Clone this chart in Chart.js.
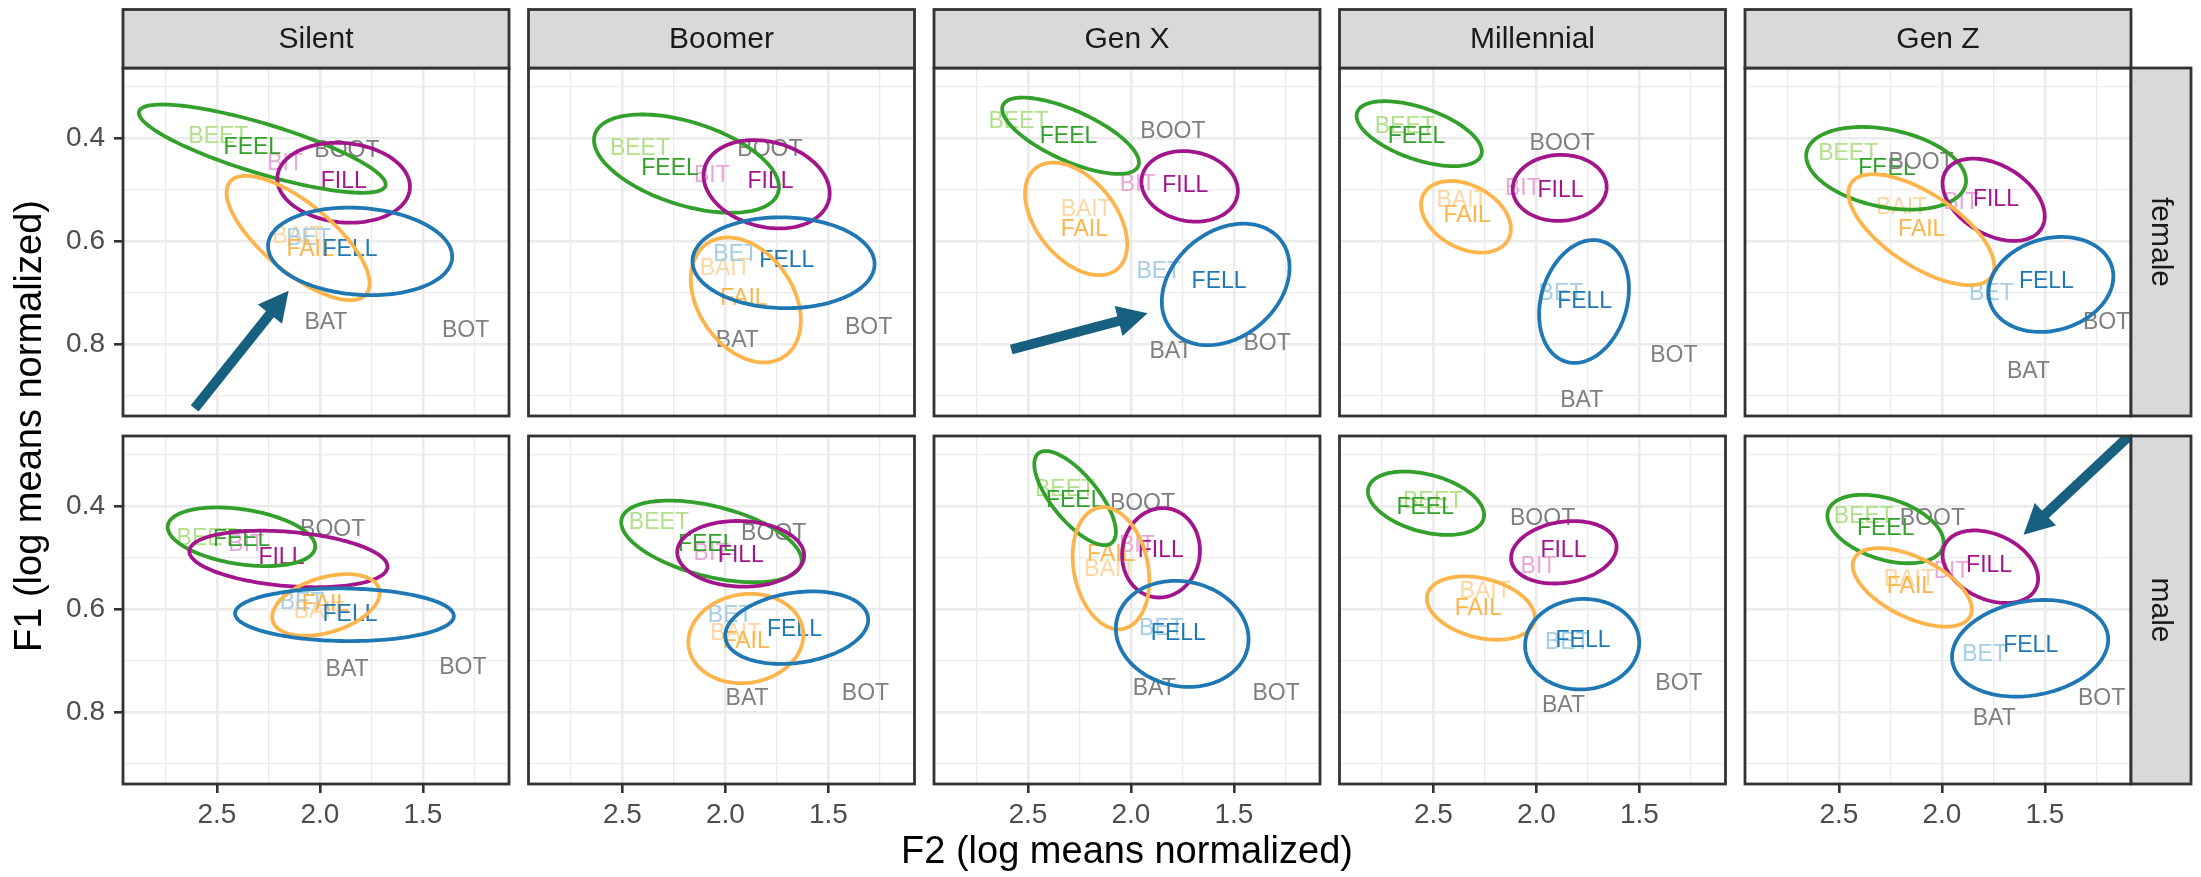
<!DOCTYPE html>
<html>
<head>
<meta charset="utf-8">
<script src="https://cdn.jsdelivr.net/npm/chart.js@4.4.1/dist/chart.umd.min.js"></script>
<style>
  body { margin: 0; background: #fff; }
  #fig { position: relative; width: 2201px; height: 877px; background: #fff; }
  #fig canvas { position: absolute; left: 0; top: 0; }
</style>
</head>
<body>
<div id="fig"></div>
<script>
// facets
const generations = ['Silent', 'Boomer', 'Gen X', 'Millennial', 'Gen Z'];
const sexes = ['female', 'male'];

// words, in drawing order
const words = ['BEET', 'BIT', 'BAIT', 'BET', 'FEEL', 'FILL', 'FAIL', 'FELL', 'BOOT', 'BAT', 'BOT'];
const ellipseWords = ['FEEL', 'FILL', 'FAIL', 'FELL'];

// axis ticks
const xTicks = [2.75, 2.5, 2.25, 2.0, 1.75, 1.5, 1.25];
const xMajor = [2.5, 2.0, 1.5];
const yTicks = [0.3, 0.4, 0.5, 0.6, 0.7, 0.8, 0.9];
const yMajor = [0.4, 0.6, 0.8];

// F2 / F1 of each word (same order as words)
const silentFemaleF2 = [2.493, 2.169, 2.107, 2.055, 2.328, 1.884, 2.048, 1.854, 1.869, 1.971, 1.293];
const silentFemaleF1 = [0.398, 0.451, 0.592, 0.595, 0.419, 0.485, 0.617, 0.617, 0.425, 0.758, 0.774];
const boomerFemaleF2 = [2.415, 2.066, 2.001, 1.950, 2.269, 1.781, 1.910, 1.702, 1.784, 1.942, 1.305];
const boomerFemaleF1 = [0.421, 0.474, 0.653, 0.627, 0.459, 0.485, 0.711, 0.638, 0.422, 0.793, 0.768];
const genxFemaleF2 = [2.546, 1.967, 2.217, 1.865, 2.303, 1.736, 2.226, 1.572, 1.796, 1.806, 1.339];
const genxFemaleF1 = [0.369, 0.490, 0.539, 0.659, 0.397, 0.493, 0.577, 0.679, 0.388, 0.815, 0.798];
const millFemaleF2 = [2.639, 2.066, 2.361, 1.881, 2.582, 1.883, 2.336, 1.766, 1.875, 1.780, 1.333];
const millFemaleF1 = [0.379, 0.499, 0.521, 0.701, 0.398, 0.503, 0.550, 0.717, 0.412, 0.909, 0.822];
const genzFemaleF2 = [2.455, 1.907, 2.196, 1.760, 2.267, 1.738, 2.098, 1.493, 2.101, 1.580, 1.201];
const genzFemaleF1 = [0.430, 0.526, 0.535, 0.701, 0.459, 0.519, 0.577, 0.679, 0.448, 0.853, 0.758];

const silentMaleF2 = [2.550, 2.358, 2.003, 2.087, 2.380, 2.187, 1.973, 1.854, 1.938, 1.868, 1.306];
const silentMaleF1 = [0.463, 0.476, 0.605, 0.587, 0.466, 0.500, 0.592, 0.610, 0.447, 0.718, 0.713];
const boomerMaleF2 = [2.323, 2.068, 1.950, 1.977, 2.091, 1.925, 1.900, 1.665, 1.766, 1.895, 1.320];
const boomerMaleF1 = [0.432, 0.492, 0.647, 0.613, 0.476, 0.496, 0.663, 0.639, 0.453, 0.773, 0.764];
const genxMaleF2 = [2.320, 1.971, 2.102, 1.852, 2.273, 1.855, 2.098, 1.770, 1.944, 1.887, 1.295];
const genxMaleF1 = [0.369, 0.478, 0.524, 0.637, 0.390, 0.487, 0.494, 0.648, 0.395, 0.755, 0.764];
const millMaleF2 = [2.502, 1.990, 2.249, 1.850, 2.540, 1.869, 2.282, 1.774, 1.970, 1.869, 1.308];
const millMaleF1 = [0.392, 0.518, 0.566, 0.665, 0.403, 0.487, 0.600, 0.661, 0.424, 0.787, 0.744];
const genzMaleF2 = [2.379, 1.953, 2.158, 1.793, 2.273, 1.771, 2.153, 1.569, 2.046, 1.746, 1.225];
const genzMaleF1 = [0.421, 0.527, 0.543, 0.689, 0.445, 0.516, 0.556, 0.671, 0.424, 0.813, 0.773];

// ellipses for FEEL, FILL, FAIL, FELL: [centre F2, centre F1, half width F2, half height F1, correlation]
const silentFemaleEll = [[2.280, 0.421, 0.599, 0.0855, -0.81], [1.885, 0.487, 0.322, 0.0774, -0.10],
                         [2.106, 0.594, 0.347, 0.1204, -0.73], [1.805, 0.620, 0.447, 0.0848, -0.12]];
const boomerFemaleEll = [[2.189, 0.450, 0.449, 0.0952, -0.48], [1.800, 0.490, 0.306, 0.0855, -0.20],
                         [1.901, 0.714, 0.267, 0.1210, -0.33], [1.718, 0.642, 0.442, 0.0880, -0.03]];
const genxFemaleEll = [[2.293, 0.396, 0.332, 0.0739, -0.70], [1.715, 0.494, 0.234, 0.0683, -0.13],
                       [2.266, 0.557, 0.248, 0.1090, -0.45], [1.540, 0.684, 0.310, 0.1177, 0.28]];
const millFemaleEll = [[2.569, 0.392, 0.304, 0.0629, -0.55], [1.887, 0.497, 0.228, 0.0639, 0.03],
                       [2.342, 0.553, 0.218, 0.0693, -0.34], [1.769, 0.717, 0.218, 0.1190, 0.21]];
const genzFemaleEll = [[2.271, 0.459, 0.388, 0.0800, -0.30], [1.749, 0.520, 0.248, 0.0797, -0.40],
                       [2.100, 0.578, 0.354, 0.1074, -0.66], [1.471, 0.684, 0.303, 0.0920, 0.17]];

const silentMaleEll = [[2.381, 0.460, 0.358, 0.0568, -0.33], [2.153, 0.503, 0.481, 0.0548, -0.27],
                       [1.971, 0.592, 0.261, 0.0597, 0.39], [1.881, 0.611, 0.531, 0.0510, -0.05]];
const boomerMaleEll = [[2.068, 0.469, 0.438, 0.0791, -0.47], [1.926, 0.493, 0.308, 0.0636, -0.05],
                       [1.901, 0.657, 0.279, 0.0866, 0.08], [1.654, 0.636, 0.347, 0.0702, 0.22]];
const genxMaleEll = [[2.271, 0.385, 0.198, 0.0911, -0.72], [1.854, 0.491, 0.189, 0.0866, 0.05],
                     [2.097, 0.521, 0.186, 0.1182, -0.20], [1.751, 0.648, 0.322, 0.1027, -0.10]];
const millMaleEll = [[2.536, 0.395, 0.282, 0.0614, -0.37], [1.867, 0.490, 0.256, 0.0605, 0.18],
                     [2.270, 0.598, 0.262, 0.0614, -0.30], [1.778, 0.668, 0.277, 0.0876, 0.03]];
const genzMaleEll = [[2.274, 0.445, 0.282, 0.0663, -0.39], [1.765, 0.518, 0.232, 0.0703, -0.33],
                     [2.144, 0.558, 0.289, 0.0760, -0.56], [1.572, 0.676, 0.379, 0.0936, 0.18]];

// highlight arrows: panel [sex, generation], from (F2, F1) to (F2, F1)
const arrowPanels = [[0, 0], [0, 2], [1, 4]];
const arrowFrom = [[2.608, 0.924], [2.581, 0.810], [1.095, 0.266]];
const arrowTo = [[2.152, 0.696], [1.919, 0.740], [1.604, 0.456]];

const panelF2 = [[silentFemaleF2, boomerFemaleF2, genxFemaleF2, millFemaleF2, genzFemaleF2],
                 [silentMaleF2, boomerMaleF2, genxMaleF2, millMaleF2, genzMaleF2]];
const panelF1 = [[silentFemaleF1, boomerFemaleF1, genxFemaleF1, millFemaleF1, genzFemaleF1],
                 [silentMaleF1, boomerMaleF1, genxMaleF1, millMaleF1, genzMaleF1]];
const panelEll = [[silentFemaleEll, boomerFemaleEll, genxFemaleEll, millFemaleEll, genzFemaleEll],
                  [silentMaleEll, boomerMaleEll, genxMaleEll, millMaleEll, genzMaleEll]];

// styles
const FONT = '"Liberation Sans", Arial, Helvetica, sans-serif';
const wordColors = {
    BEET: '#b2df8a', BIT: '#e7a8d8', BAIT: '#fdd7a2', BET: '#a6cee3',
    FEEL: '#33a02c', FILL: '#a3168b', FAIL: '#fdb44a', FELL: '#1f78b4',
    BOOT: '#7f7f7f', BAT: '#7f7f7f', BOT: '#7f7f7f'
};
const ARROW = '#17607f';

// layout (px)
const W = 2201, H = 877;
const panelLeft = 123, panelStep = 405.5, panelW = 386, panelH = 348;
const rowTop = [68, 436];
const stripTop = 9.5, stripSide = 60;

Chart.defaults.font.family = FONT;

function drawArrow(ctx, x0, y0, x1, y1) {
    const ang = Math.atan2(y1 - y0, x1 - x0);
    const headLen = 30, headHalf = 15.5;
    const bx = x1 - headLen * Math.cos(ang), by = y1 - headLen * Math.sin(ang);
    ctx.strokeStyle = ARROW;
    ctx.fillStyle = ARROW;
    ctx.lineWidth = 10;
    ctx.lineCap = 'butt';
    ctx.beginPath();
    ctx.moveTo(x0, y0);
    ctx.lineTo(bx + 2 * Math.cos(ang), by + 2 * Math.sin(ang));
    ctx.stroke();
    ctx.beginPath();
    ctx.moveTo(x1, y1);
    ctx.lineTo(bx + headHalf * Math.sin(ang), by - headHalf * Math.cos(ang));
    ctx.lineTo(bx - headHalf * Math.sin(ang), by + headHalf * Math.cos(ang));
    ctx.closePath();
    ctx.fill();
}

function panelPlugin(r, c) {
    return {
        id: 'panel' + r + c,
        afterDatasetsDraw(chart) {
            const {ctx, chartArea: a, scales: {x, y}} = chart;
            ctx.save();
            ctx.beginPath();
            ctx.rect(a.left, a.top, a.right - a.left, a.bottom - a.top);
            ctx.clip();

            //word labels
            ctx.font = '23px ' + FONT;
            ctx.textAlign = 'center';
            ctx.textBaseline = 'middle';
            chart.data.datasets.forEach((ds, i) => {
                const pt = chart.getDatasetMeta(i).data[0];
                ctx.fillStyle = wordColors[ds.label];
                ctx.fillText(ds.label, pt.x, pt.y);
            });

            //ellipses
            ctx.lineWidth = 3.8;
            panelEll[r][c].forEach((e, k) => {
                const s = Math.sqrt(1 - e[4] * e[4]);
                ctx.beginPath();
                for (let j = 0; j <= 160; j++) {
                    const t = j / 160 * 2 * Math.PI;
                    const px = x.getPixelForValue(e[0] + e[2] * Math.cos(t));
                    const py = y.getPixelForValue(e[1] + e[3] * (e[4] * Math.cos(t) + s * Math.sin(t)));
                    if (j === 0) ctx.moveTo(px, py); else ctx.lineTo(px, py);
                }
                ctx.closePath();
                ctx.strokeStyle = wordColors[ellipseWords[k]];
                ctx.stroke();
            });

            //arrows
            arrowPanels.forEach((p, k) => {
                if (p[0] !== r || p[1] !== c) return;
                drawArrow(ctx,
                    x.getPixelForValue(arrowFrom[k][0]), y.getPixelForValue(arrowFrom[k][1]),
                    x.getPixelForValue(arrowTo[k][0]), y.getPixelForValue(arrowTo[k][1]));
            });
            ctx.restore();
        },
        afterDraw(chart) {
            const {ctx, chartArea: a} = chart;
            ctx.save();
            ctx.strokeStyle = '#333333';
            ctx.lineWidth = 2.8;
            ctx.strokeRect(a.left, a.top, a.right - a.left, a.bottom - a.top);

            // top strip
            if (r === 0) {
                ctx.fillStyle = '#d9d9d9';
                ctx.fillRect(a.left, stripTop, a.right - a.left, a.top - stripTop);
                ctx.strokeRect(a.left, stripTop, a.right - a.left, a.top - stripTop);
                ctx.fillStyle = '#1a1a1a';
                ctx.font = '30px ' + FONT;
                ctx.textAlign = 'center';
                ctx.textBaseline = 'middle';
                ctx.fillText(generations[c], (a.left + a.right) / 2, (stripTop + a.top) / 2 + 1);
            }
            // right strip
            if (c === 4) {
                ctx.fillStyle = '#d9d9d9';
                ctx.fillRect(a.right, a.top, stripSide, a.bottom - a.top);
                ctx.strokeRect(a.right, a.top, stripSide, a.bottom - a.top);
                ctx.fillStyle = '#1a1a1a';
                ctx.font = '30px ' + FONT;
                ctx.textAlign = 'center';
                ctx.textBaseline = 'middle';
                ctx.translate(a.right + stripSide / 2 - 1, (a.top + a.bottom) / 2);
                ctx.rotate(Math.PI / 2);
                ctx.fillText(sexes[r], 0, 0);
                ctx.setTransform(1, 0, 0, 1, 0, 0);
            }
            // axis titles, drawn once
            if (r === 0 && c === 0) {
                ctx.fillStyle = '#000000';
                ctx.font = '38px ' + FONT;
                ctx.textAlign = 'center';
                ctx.textBaseline = 'middle';
                ctx.fillText('F2 (log means normalized)', (panelLeft + panelLeft + 4 * panelStep + panelW) / 2, 853);
                ctx.translate(31, (rowTop[0] + rowTop[1] + panelH) / 2);
                ctx.rotate(-Math.PI / 2);
                ctx.fillText('F1 (log means normalized)', 0, 0);
                ctx.setTransform(1, 0, 0, 1, 0, 0);
            }
            ctx.restore();
        }
    };
}

const fig = document.getElementById('fig');
for (let r = 0; r < 2; r++) {
    for (let c = 0; c < 5; c++) {
        const canvas = document.createElement('canvas');
        canvas.width = W;
        canvas.height = H;
        canvas.style.width = W + 'px';
        canvas.style.height = H + 'px';
        fig.appendChild(canvas);

        const L = panelLeft + c * panelStep;
        const T = rowTop[r];
        const leftCol = c === 0;
        const bottomRow = r === 1;
        const f2 = panelF2[r][c], f1 = panelF1[r][c];

        new Chart(canvas, {
            type: 'scatter',
            data: {
                datasets: words.map((w, i) => ({
                    label: w,
                    data: [{x: f2[i], y: f1[i]}],
                    pointRadius: 0,
                    pointHoverRadius: 0
                }))
            },
            options: {
                responsive: false,
                animation: false,
                devicePixelRatio: 1,
                events: [],
                layout: {
                    autoPadding: false,
                    padding: {
                        left: leftCol ? 0 : L,
                        right: W - L - panelW,
                        top: T,
                        bottom: bottomRow ? 0 : H - T - panelH
                    }
                },
                plugins: {
                    legend: {display: false},
                    tooltip: {enabled: false}
                },
                scales: {
                    x: {
                        type: 'linear',
                        reverse: true,
                        min: 1.0822,
                        max: 2.956,
                        afterBuildTicks: (axis) => { axis.ticks = xTicks.map(v => ({value: v})); },
                        afterFit: (axis) => { axis.height = bottomRow ? H - T - panelH : 0; },
                        border: {display: false},
                        grid: {
                            color: '#ebebeb',
                            lineWidth: (ctx) => xMajor.includes(ctx.tick.value) ? 2.6 : 1.3,
                            drawTicks: bottomRow,
                            tickLength: 9,
                            tickWidth: 2.6,
                            tickColor: (ctx) => xMajor.includes(ctx.tick.value) ? '#333333' : 'rgba(0,0,0,0)'
                        },
                        ticks: {
                            display: bottomRow,
                            autoSkip: false,
                            maxRotation: 0,
                            padding: 5,
                            color: '#4d4d4d',
                            font: {size: 28},
                            callback: (v) => xMajor.includes(v) ? v.toFixed(1) : ''
                        }
                    },
                    y: {
                        type: 'linear',
                        reverse: true,
                        min: 0.2648,
                        max: 0.9388,
                        afterBuildTicks: (axis) => { axis.ticks = yTicks.map(v => ({value: v})); },
                        afterFit: (axis) => { axis.width = leftCol ? L : 0; },
                        border: {display: false},
                        grid: {
                            color: '#ebebeb',
                            lineWidth: (ctx) => yMajor.includes(ctx.tick.value) ? 2.6 : 1.3,
                            drawTicks: leftCol,
                            tickLength: 9,
                            tickWidth: 2.6,
                            tickColor: (ctx) => yMajor.includes(ctx.tick.value) ? '#333333' : 'rgba(0,0,0,0)'
                        },
                        ticks: {
                            display: leftCol,
                            autoSkip: false,
                            padding: 9,
                            color: '#4d4d4d',
                            font: {size: 28},
                            callback: (v) => yMajor.includes(v) ? v.toFixed(1) : ''
                        }
                    }
                }
            },
            plugins: [panelPlugin(r, c)]
        });
    }
}
</script>
</body>
</html>
